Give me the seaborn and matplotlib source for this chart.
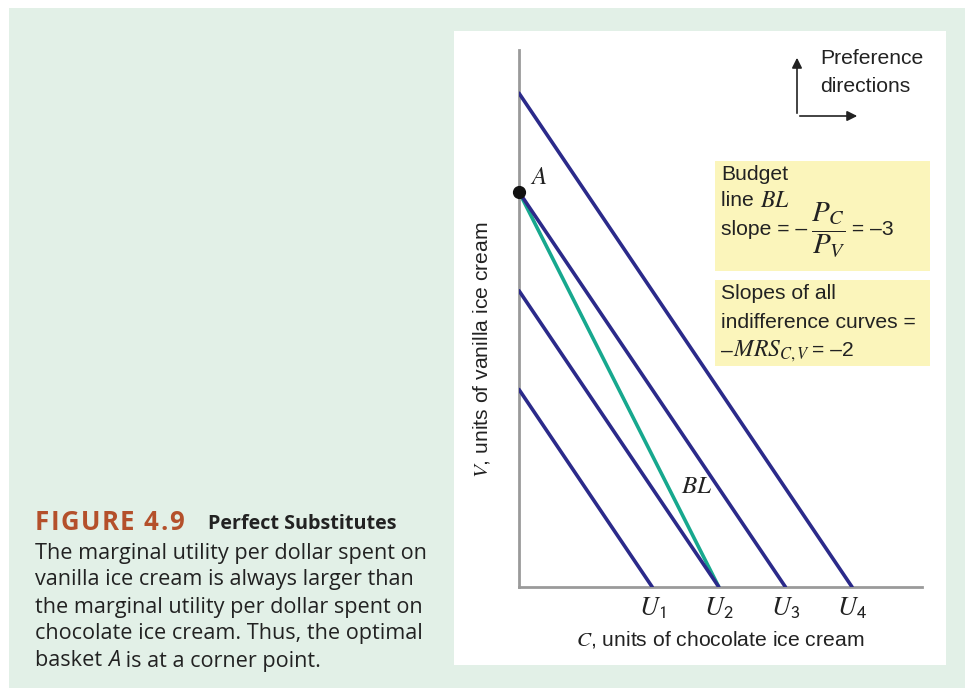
import pandas as pd
import seaborn as sns
import matplotlib.pyplot as plt
from matplotlib.patches import Rectangle, FancyArrowPatch

# Datos de la figura (unidades arbitrarias del gráfico)
curvas = ['U1', 'U2', 'U3', 'U4']
etiquetas_u = [r'$U_{\mathsf{1}}$', r'$U_{\mathsf{2}}$', r'$U_{\mathsf{3}}$', r'$U_{\mathsf{4}}$']
corte_v = [8, 12, 16, 20]      # intersección con el eje V
corte_c = [4, 6, 8, 10]        # intersección con el eje C
bl_corte_v = 16
bl_corte_c = 6
punto_a = (0, 16)

filas = []
for nombre, v0, c0 in zip(curvas, corte_v, corte_c):
    filas.append({'curva': nombre, 'C': 0, 'V': v0})
    filas.append({'curva': nombre, 'C': c0, 'V': 0})
filas.append({'curva': 'BL', 'C': 0, 'V': bl_corte_v})
filas.append({'curva': 'BL', 'C': bl_corte_c, 'V': 0})
df = pd.DataFrame(filas)

sns.set_style('white')
plt.rcParams['font.family'] = ['Liberation Sans', 'DejaVu Sans']
plt.rcParams['mathtext.fontset'] = 'stix'

W, H = 965, 700
fig = plt.figure(figsize=(W / 100, H / 100), dpi=100)

def fx(x):
    return x / W

def fy(y):
    return 1 - y / H

def caja(x0, y0, x1, y1, color, z):
    fig.patches.append(Rectangle((fx(x0), fy(y1)), fx(x1 - x0), (y1 - y0) / H,
                                 transform=fig.transFigure, facecolor=color, edgecolor='none', zorder=z))

# Fondo verde, panel blanco y cuadros amarillos
caja(9, 8, 965, 688, '#e2f0e7', -3)
caja(454, 31, 946, 665, 'white', -2)
amarillo = '#fbf5bb'
caja(715, 161, 930, 271, amarillo, -1)
caja(715, 280, 930, 366, amarillo, -1)

ax = fig.add_axes([fx(519), fy(587), fx(922 - 519), (587 - 50) / H])
ax.set_facecolor('none')

paleta = {'U1': '#2b2a8a', 'U2': '#2b2a8a', 'U3': '#2b2a8a', 'U4': '#2b2a8a', 'BL': '#17a88e'}
sns.lineplot(data=df[df['curva'] != 'BL'], x='C', y='V', hue='curva', units='curva', estimator=None,
             palette=paleta, linewidth=2.6, legend=False, ax=ax, zorder=3)
sns.lineplot(data=df[df['curva'] == 'BL'], x='C', y='V', color=paleta['BL'], linewidth=2.6,
             legend=False, ax=ax, zorder=2)
ax.plot([punto_a[0]], [punto_a[1]], 'o', color='#111111', markersize=8.5, zorder=5, clip_on=False)

ax.set_xlim(0, 12.1)
ax.set_ylim(0, 21.75)
ax.set_xticks([])
ax.set_yticks([])
for lado in ['top', 'right']:
    ax.spines[lado].set_visible(False)
for lado in ['left', 'bottom']:
    ax.spines[lado].set_color('#9a9a9a')
    ax.spines[lado].set_linewidth(2.0)
ax.set_xlabel('')
ax.set_ylabel('')

tinta = '#222222'

def seguir(prev, texto, dx=0, color=tinta, **kw):
    # coloca un texto justo a la derecha del anterior
    return ax.annotate(texto, xy=(1, 0.5), xycoords=prev, xytext=(dx, 0), textcoords='offset points',
                       va='center', ha='left', color=color, annotation_clip=False, **kw)

# Etiquetas de curvas
for c0, lab in zip(corte_c, etiquetas_u):
    ax.text(c0, -0.85, lab, ha='center', va='center', fontsize=19, color=tinta, clip_on=False)
ax.text(0.33, 16.6, r'$A$', fontsize=18, color=tinta, ha='left', va='center')
ax.text(5.35, 4.1, r'$BL$', fontsize=18, color=tinta, ha='center', va='center')

fs = 15.2
# Títulos de ejes
fig.text(fx(720), fy(640), r'$C$, units of chocolate ice cream', ha='center', va='center',
         fontsize=fs, color=tinta)
fig.text(fx(482), fy(350), r'$V$, units of vanilla ice cream', ha='center', va='center',
         rotation=90, fontsize=fs, color=tinta)

# Textos de los cuadros
fig.text(fx(721), fy(174), 'Budget', fontsize=fs, va='center', color=tinta)
t = fig.text(fx(721), fy(201), 'line ', fontsize=fs, va='center', color=tinta)
seguir(t, r'$BL$', fontsize=17)
t = fig.text(fx(721), fy(230), 'slope = –', fontsize=fs, va='center', color=tinta)
t = seguir(t, r'$\dfrac{P_C}{P_V}$', dx=3, fontsize=21)
seguir(t, ' = –3', fontsize=fs)
fig.text(fx(721), fy(294), 'Slopes of all', fontsize=fs, va='center', color=tinta)
fig.text(fx(721), fy(322), 'indifference curves =', fontsize=fs, va='center', color=tinta)
t = fig.text(fx(721), fy(351), '–', fontsize=fs, va='center', color=tinta)
t = seguir(t, r'$MRS_{C,V}$', fontsize=17)
seguir(t, '= –2', dx=1, fontsize=fs)

# Flechas de preferencia
for x1, y1, x2, y2 in [(797, 116, 797, 55), (797, 116, 860, 116)]:
    fig.patches.append(FancyArrowPatch((fx(x1), fy(y1)), (fx(x2), fy(y2)), transform=fig.transFigure,
                                       arrowstyle='-|>', mutation_scale=15, color=tinta, linewidth=1.2))
fig.text(fx(820), fy(58), 'Preference', fontsize=fs, va='center', color=tinta)
fig.text(fx(820), fy(86), 'directions', fontsize=fs, va='center', color=tinta)

# Leyenda de la figura
humanista = ['Open Sans', 'DejaVu Sans']
rojo = '#b4502b'
t = fig.text(fx(35), fy(522), 'F', fontsize=18.5, fontweight='bold', color=rojo,
             va='center', family=humanista)
for letra in 'IGURE 4.9':
    t = seguir(t, letra, dx=1.0, color=rojo, fontsize=18.5, fontweight='bold', family=humanista)
fig.text(fx(208), fy(524), 'Perfect Substitutes', fontsize=14.2, fontweight='bold', color=tinta,
         va='center', family=humanista)
cuerpo = ['The marginal utility per dollar spent on',
          'vanilla ice cream is always larger than',
          'the marginal utility per dollar spent on',
          'chocolate ice cream. Thus, the optimal']
for i, linea in enumerate(cuerpo):
    fig.text(fx(35), fy(553 + i * 27), linea, fontsize=15.6, color=tinta, va='center',
             family=humanista)
t = fig.text(fx(35), fy(553 + 4 * 27), 'basket ', fontsize=15.6, color=tinta, va='center',
             family=humanista)
t = seguir(t, 'A', fontsize=15.6, style='italic', family=humanista)
seguir(t, ' is at a corner point.', fontsize=15.6, family=humanista)

fig.savefig('out.png', dpi=100)
